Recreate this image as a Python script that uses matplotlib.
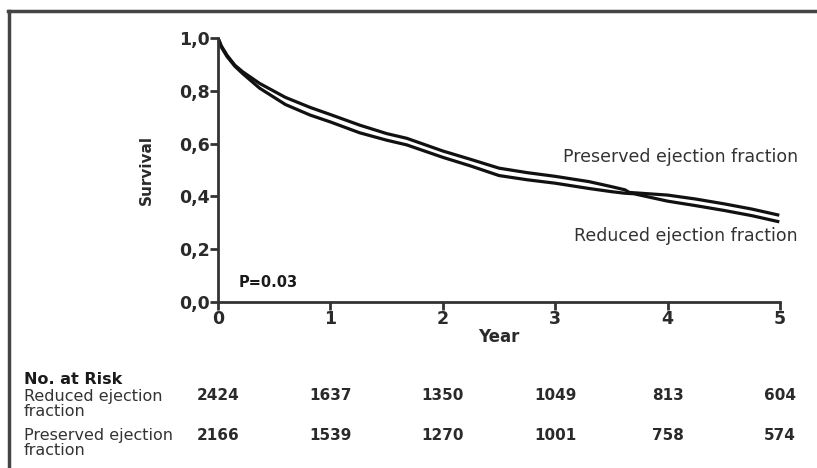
import matplotlib.pyplot as plt
from matplotlib.lines import Line2D
import matplotlib.transforms as mtransforms

plt.rcParams['font.family'] = ['DejaVu Sans']

# survival curves
years_pres = [0, 0.03, 0.08, 0.15, 0.22, 0.37, 0.6, 0.82, 1.0, 1.26, 1.5, 1.68, 2.0, 2.25, 2.5,
              2.75, 3.0, 3.3, 3.5, 3.62, 3.66, 4.0, 4.25, 4.5, 4.75, 4.98]
surv_pres = [1.0, 0.97, 0.935, 0.897, 0.872, 0.828, 0.775, 0.737, 0.71, 0.67, 0.638, 0.62, 0.572,
             0.54, 0.507, 0.49, 0.476, 0.456, 0.437, 0.425, 0.415, 0.405, 0.39, 0.372, 0.352, 0.33]
years_red = [0, 0.03, 0.08, 0.15, 0.22, 0.37, 0.6, 0.82, 1.0, 1.26, 1.5, 1.68, 2.0, 2.25, 2.5,
             2.75, 3.0, 3.3, 3.5, 3.62, 3.7, 4.0, 4.25, 4.5, 4.75, 4.98]
surv_red = [1.0, 0.965, 0.93, 0.893, 0.865, 0.81, 0.748, 0.708, 0.682, 0.641, 0.613, 0.595, 0.548,
            0.515, 0.479, 0.463, 0.45, 0.43, 0.418, 0.412, 0.41, 0.382, 0.365, 0.347, 0.327, 0.305]

risk_years = [0, 1, 2, 3, 4, 5]
risk_reduced = [2424, 1637, 1350, 1049, 813, 604]
risk_preserved = [2166, 1539, 1270, 1001, 758, 574]

ink = '#2a2a2a'

fig = plt.figure(figsize=(8.17, 4.68), dpi=100)
ax = fig.add_axes([218 / 817, 1 - 302 / 468, 562 / 817, 264 / 468])

ax.plot(years_pres, surv_pres, color='#111111', lw=2.3, solid_joinstyle='round')
ax.plot(years_red, surv_red, color='#111111', lw=2.3, solid_joinstyle='round')

ax.set_xlim(0, 5)
ax.set_ylim(0, 1.0)
ax.set_xticks(risk_years)
ax.set_xticklabels([str(y) for y in risk_years], fontsize=12.5, fontweight='bold', color=ink)
yt = [0, 0.2, 0.4, 0.6, 0.8, 1.0]
ax.set_yticks(yt)
ax.set_yticklabels([f'{v:.1f}'.replace('.', ',') for v in yt], fontsize=12.5,
                   fontweight='bold', color=ink)
ax.tick_params(direction='out', length=6, width=2, color='#333333', pad=0)
for s in ['top', 'right']:
    ax.spines[s].set_visible(False)
for s in ['left', 'bottom']:
    ax.spines[s].set_linewidth(2)
    ax.spines[s].set_color('#333333')
ax.set_xlabel('Year', fontsize=12, fontweight='bold', color=ink, labelpad=0)
ax.set_ylabel('Survival', fontsize=11, fontweight='bold', color=ink, labelpad=18)

ax.text(0.18, 0.072, 'P=0.03', fontsize=10.5, fontweight='bold', color='#1a1a1a', va='center')
ax.text(5.16, 0.549, 'Preserved ejection fraction', fontsize=12.5, color='#333333',
        ha='right', va='center', clip_on=False)
ax.text(5.16, 0.25, 'Reduced ejection fraction', fontsize=12.5, color='#333333',
        ha='right', va='center', clip_on=False)

# number at risk table
trans = mtransforms.blended_transform_factory(ax.transData, fig.transFigure)
fig.text(24 / 817, 1 - 380 / 468, 'No. at Risk', fontsize=11.5, fontweight='bold',
         color='#1a1a1a', va='center')
fig.text(24 / 817, 1 - 404 / 468, 'Reduced ejection\nfraction', fontsize=11.5,
         color='#333333', va='center', linespacing=0.95)
fig.text(24 / 817, 1 - 443 / 468, 'Preserved ejection\nfraction', fontsize=11.5,
         color='#333333', va='center', linespacing=0.95)
for x, r, p in zip(risk_years, risk_reduced, risk_preserved):
    ax.text(x, 1 - 396 / 468, str(r), transform=trans, ha='center', va='center',
            fontsize=11, fontweight='bold', color=ink)
    ax.text(x, 1 - 435 / 468, str(p), transform=trans, ha='center', va='center',
            fontsize=11, fontweight='bold', color=ink)

# outer frame (left and top edges)
fig.add_artist(Line2D([9 / 817, 9 / 817], [0, 1 - 11 / 468], transform=fig.transFigure,
                      color='#444444', lw=2.5))
fig.add_artist(Line2D([8 / 817, 1], [1 - 11 / 468, 1 - 11 / 468], transform=fig.transFigure,
                      color='#444444', lw=2.5))

fig.savefig('out.png', dpi=100)
